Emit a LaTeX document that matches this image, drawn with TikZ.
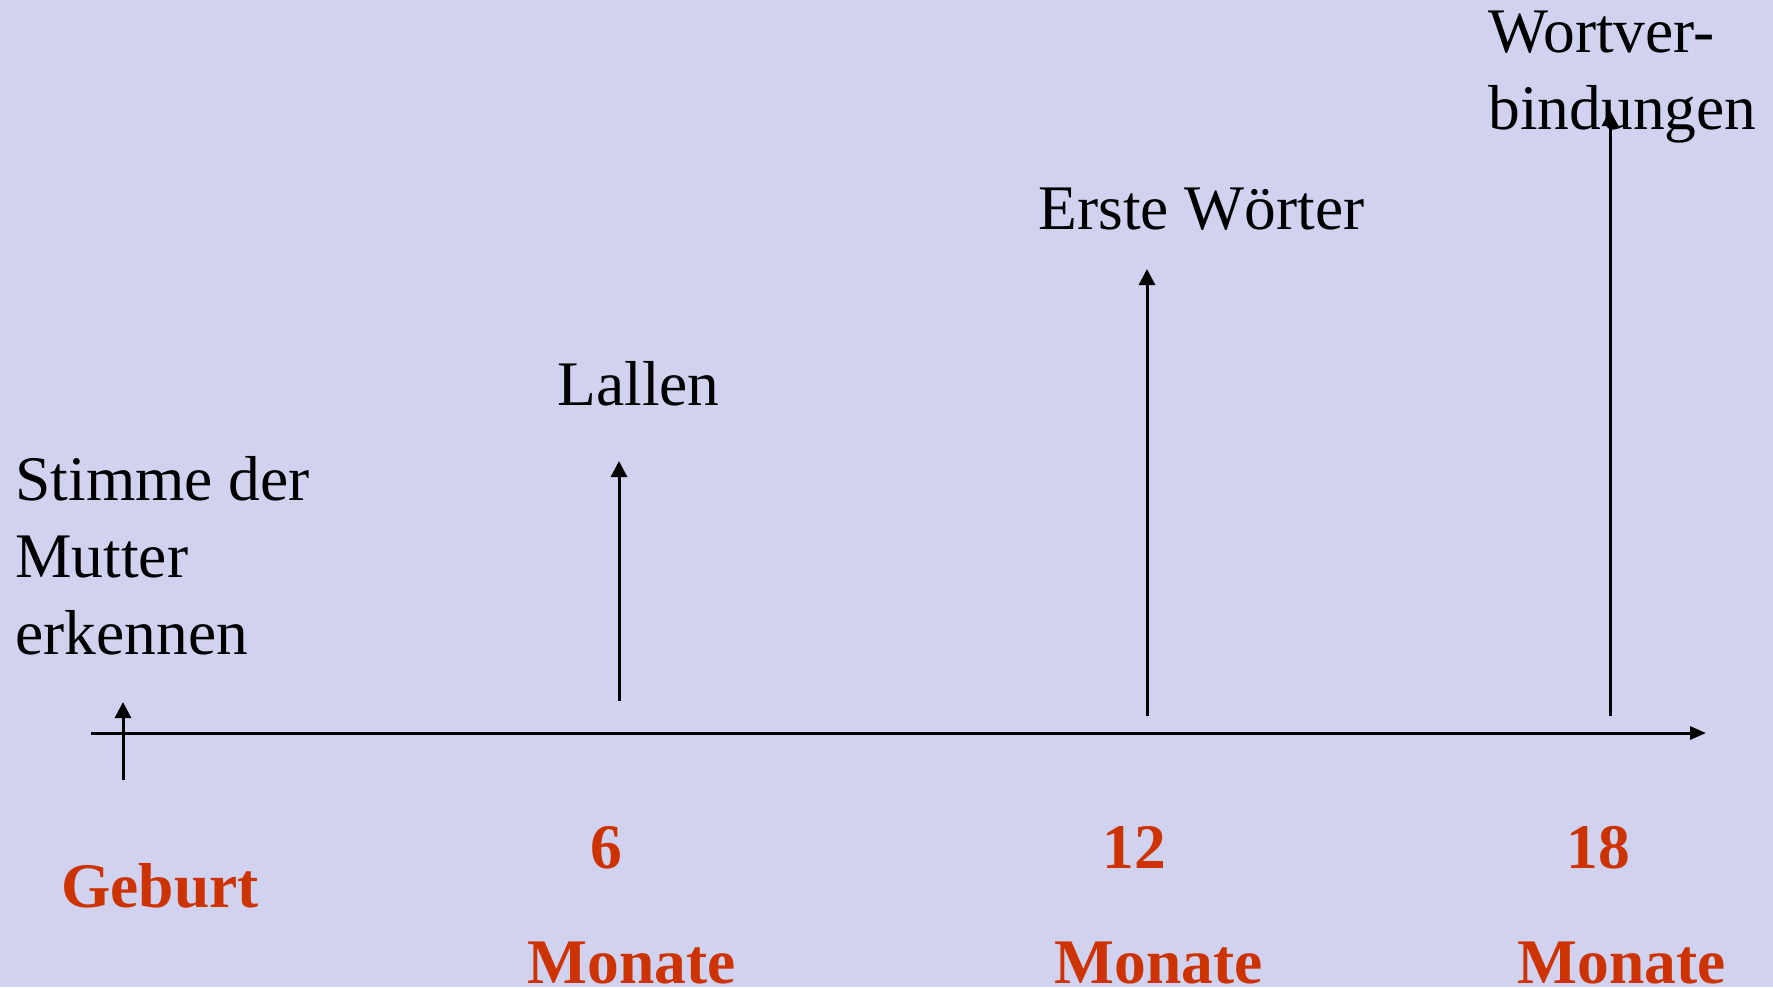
\documentclass[tikz,border=0pt]{standalone}
\usepackage{fontspec}
\setmainfont{Liberation Serif}
\usetikzlibrary{arrows.meta}
\definecolor{bg}{RGB}{209,210,240}
\definecolor{milestone}{RGB}{204,51,0}

\begin{document}
\begin{tikzpicture}[x=0.5pt,y=-0.5pt,
  stage/.style={font=\fontsize{31.75}{38.3}\selectfont, inner sep=0pt, align=left, anchor=base west},
  age/.style={font=\fontsize{31.75}{38.3}\selectfont\bfseries, text=milestone, inner sep=0pt},
  axisline/.style={line width=1.5pt, -{Triangle[length=8pt,width=6.5pt]}},
  rise/.style={line width=1.5pt, -{Triangle[length=8pt,width=8pt]}}]
% background and page size
\fill[bg] (0,0) rectangle (1773,987);
\useasboundingbox (0,0) rectangle (1773,987);

% time axis
\coordinate (axstart) at (91,733);
\coordinate (axend) at (1706,733);
\draw[axisline] (axstart) -- (axend);

% milestone arrows
\coordinate (b0) at (123,780);  \coordinate (t0) at (123,702);
\coordinate (b6) at (619,701);  \coordinate (t6) at (619,461);
\coordinate (b12) at (1147,716); \coordinate (t12) at (1147,269);
\coordinate (b18) at (1610,716); \coordinate (t18) at (1610,110);
\draw[rise] (b0) -- (t0);
\draw[rise] (b6) -- (t6);
\draw[rise] (b12) -- (t12);
\draw[rise] (b18) -- (t18);

% stages of language development (base = baseline of the last line)
\node[stage] (voice) at (15,654) {Stimme der\\Mutter\\erkennen};
\node[stage] (babble) at (557,405) {Lallen};
\node[stage] (words) at (1038,229.5) {Erste Wörter};
\node[stage] (phrases) at (1488,129) {Wortver-\\bindungen};

% ages
\node[age, anchor=base west] (birth) at (61,907) {Geburt};
\node[age, anchor=base] (n6) at (606,868) {6};
\node[age, anchor=base] (n12) at (1134,868) {12};
\node[age, anchor=base] (n18) at (1598,868) {18};
\node[age, anchor=base west] (m6) at (527,983) {Monate};
\node[age, anchor=base west] (m12) at (1054,983) {Monate};
\node[age, anchor=base west] (m18) at (1517,983) {Monate};
\end{tikzpicture}
\end{document}
